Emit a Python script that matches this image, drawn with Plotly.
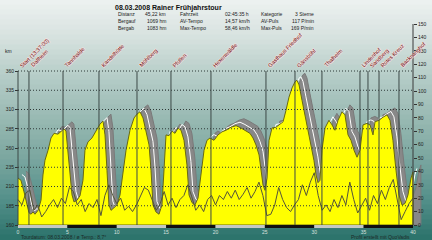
import plotly.graph_objects as go

# ---------------- data ----------------
km = [0.0, 0.3, 0.61, 0.91, 1.11, 1.32, 1.52, 1.72, 2.03, 2.33, 2.53, 2.73, 3.04, 3.34, 3.65, 4.05,
      4.35, 4.66, 4.86, 5.06, 5.27, 5.47, 5.67, 5.97, 6.28, 6.58, 6.78, 7.09, 7.49, 7.9, 8.3, 8.61,
      8.81, 9.01, 9.21, 9.42, 9.72, 10.03, 10.33, 10.63, 10.94, 11.34, 11.75, 12.05, 12.35, 12.66,
      12.96, 13.27, 13.47, 13.67, 13.97, 14.28, 14.58, 14.78, 14.99, 15.29, 15.6, 15.9, 16.2, 16.51,
      16.81, 17.11, 17.32, 17.62, 17.92, 18.23, 18.53, 18.84, 19.14, 19.44, 19.85, 20.25, 20.66,
      21.06, 21.57, 22.08, 22.58, 23.09, 23.49, 23.8, 24.1, 24.41, 24.61, 24.81, 25.01, 25.22, 25.42,
      25.72, 26.13, 26.53, 26.84, 27.14, 27.44, 27.75, 28.05, 28.25, 28.46, 28.76, 29.06, 29.37,
      29.67, 29.97, 30.18, 30.38, 30.58, 30.78, 31.09, 31.49, 31.8, 32.1, 32.41, 32.81, 33.11, 33.42,
      33.72, 34.03, 34.33, 34.63, 34.94, 35.34, 35.65, 35.95, 36.15, 36.56, 36.96, 37.37, 37.67,
      37.97, 38.28, 38.58, 38.89, 39.19, 39.49, 39.8, 40.0]
elev = [221, 218, 203, 186, 176, 174, 177, 174, 179, 192, 225, 244, 257, 273, 279, 278,
        282, 285, 282, 257, 225, 199, 190, 192, 198, 218, 257, 268, 273, 283, 291, 295,
        277, 231, 186, 179, 182, 186, 199, 231, 257, 283, 299, 304, 307, 299,
        281, 264, 231, 186, 177, 174, 186, 231, 277, 276, 282, 279, 286, 283,
        270, 238, 199, 189, 186, 195, 225, 257, 270, 273, 270, 277, 281,
        283, 287, 289, 286, 282, 279, 273, 264, 251, 231, 212, 205, 221, 270,
        286, 287, 291, 294, 309, 326, 338, 346, 348, 342, 322, 303, 283,
        264, 244, 225, 215, 218, 257, 286, 296, 290, 283, 296, 307, 303, 277,
        270, 257, 248, 257, 290, 292, 290, 277, 294, 296, 300, 303, 296,
        270, 231, 199, 186, 188, 199, 221, 229]

speed_km = [0.0, 0.4, 0.8, 1.2, 1.6, 2.0, 2.4, 2.8, 3.2, 3.6, 4.0, 4.4, 4.8, 5.2, 5.6, 6.0, 6.4,
            6.8, 7.2, 7.6, 8.0, 8.4, 8.8, 9.2, 9.6, 10.0, 10.4, 10.8, 11.2, 11.6, 12.0, 12.4, 12.8,
            13.2, 13.6, 14.0, 14.4, 14.8, 15.2, 15.6, 16.0, 16.4, 16.8, 17.2, 17.6, 18.0, 18.4,
            18.8, 19.2, 19.6, 20.0, 20.4, 20.8, 21.2, 21.6, 22.0, 22.4, 22.8, 23.2, 23.6, 24.0,
            24.4, 24.8, 25.2, 25.6, 26.0, 26.4, 26.8, 27.2, 27.6, 28.0, 28.4, 28.8, 29.2, 29.6,
            30.0, 30.4, 30.8, 31.2, 31.6, 32.0, 32.4, 32.8, 33.2, 33.6, 34.0, 34.4, 34.8, 35.2,
            35.6, 36.0, 36.4, 36.8, 37.2, 37.6, 38.0, 38.4, 38.8, 39.2, 39.6, 40.0]
speed = [19, 15, 24, 26, 11, 15, 6, 10, 15, 19, 13, 20, 16, 28, 25, 15, 19,
         10, 16, 13, 19, 7, 22, 30, 22, 16, 20, 11, 14, 10, 15, 22, 28,
         26, 19, 11, 16, 25, 15, 20, 13, 19, 22, 30, 21, 11, 15,
         10, 19, 22, 15, 22, 19, 25, 20, 26, 19, 23, 28, 20, 25,
         32, 22, 7, 8, 15, 28, 19, 13, 10, 15, 19, 30, 22, 32,
         39, 22, 11, 15, 10, 19, 13, 22, 15, 32, 19, 9, 15, 20,
         11, 22, 16, 26, 19, 28, 34, 19, 4, 10, 16, 20]

marker_km = [0.0, 1.11, 4.56, 8.2, 12.05, 15.49, 19.54, 25.11, 28.05, 30.78, 34.63, 35.44, 36.56, 38.58]
marker_names = ["Start (13:37:00)", "Dallheim", "Tannhalde", "Kandelhütte", "Mühlberg", "Pfullen",
                "Hexenwäldle", "Gasthaus Friedhof", "Gänsbühl", "Thalheim", "Lindenhof",
                "Sandberg", "Rotes Kreuz", "Backnanghof"]

elev_ticks = [160, 185, 210, 235, 260, 285, 310, 335, 360]
right_ticks = [0, 10, 20, 30, 40, 50, 60, 70, 80, 90, 100, 110, 120, 130, 140, 150]
x_ticks = [0, 5, 10, 15, 20, 25, 30, 35, 40]

title = "08.03.2008 Rainer Frühjahrstour"
table = [
    ["Distanz", "45,22 km", "Fahrzeit", "02:45:35 h", "Kategorie", "3 Sterne"],
    ["Bergauf", "1069 hm", "AV-Tempo", "14,57 km/h", "AV-Puls", "117 P/min"],
    ["Bergab", "1083 hm", "Max-Tempo", "58,46 km/h", "Max-Puls", "169 P/min"],
]

# ---------------- geometry (plot area = whole figure) ----------------
W, H = 432, 240
X0PX, X1PX = 18, 413          # pixel of km 0 / km 40
Y0PX, Y1PX = 225, 71          # pixel of 160 m / 360 m
KPX = (X1PX - X0PX) / 40.0
MPX = (Y0PX - Y1PX) / 200.0
XR = [0 - X0PX / KPX, 40 + (W - X1PX) / KPX]
YR = [160 - (H - Y0PX) / MPX, 360 + Y1PX / MPX]
SPX = (Y0PX - 24) / 150.0     # right axis: 0 at 225 px, 150 at 24 px
Y2R = [0 - (H - Y0PX) / SPX, Y0PX / SPX]


def pp(x, y):
    return x / W, 1 - y / H


FONT = "Liberation Sans, Arial, sans-serif"

fig = go.Figure()

# gradient background bands (as filled traces)
stops = [(0, (238, 242, 241)), (40, (213, 225, 222)), (80, (179, 203, 198)),
         (120, (152, 185, 178)), (160, (122, 166, 159)), (200, (84, 144, 138)), (240, (43, 114, 106))]


def col_at(yv):
    for (ya_, ca), (yb_, cb) in zip(stops[:-1], stops[1:]):
        if ya_ <= yv <= yb_:
            t = (yv - ya_) / (yb_ - ya_)
            return "rgb(%d,%d,%d)" % tuple(int(round(a + (b - a) * t)) for a, b in zip(ca, cb))
    return "rgb(%d,%d,%d)" % stops[-1][1]


def py2m(ypx):
    return YR[1] - ypx / H * (YR[1] - YR[0])


NB = 48
for i in range(NB):
    t_px = H * i / NB
    b_px = min(H + 1, H * (i + 1) / NB + 0.6)
    yt, yb = py2m(t_px - 0.5), py2m(b_px)
    c = col_at((t_px + b_px) / 2)
    fig.add_trace(go.Scatter(x=[XR[0] - 1, XR[1] + 1, XR[1] + 1, XR[0] - 1, XR[0] - 1],
                             y=[yb, yb, yt, yt, yb], mode="lines", line=dict(width=0, color=c),
                             fill="toself", fillcolor=c, hoverinfo="skip", showlegend=False))

# shadow ribbon (extrusion)
DX, DY = 0.8, 9
sx = [k + DX for k in km]
sy = [e + DY for e in elev]
fig.add_trace(go.Scatter(x=sx + [sx[-1], sx[0]], y=sy + [160, 160], mode="lines",
                         line=dict(color="#7a7a7a", width=1), fill="toself",
                         fillcolor="#888888", hoverinfo="skip", showlegend=False))
fig.add_trace(go.Scatter(x=[k + DX / 2 for k in km], y=[e + DY / 2 for e in elev], mode="lines",
                         line=dict(color="#ffffff", width=1), hoverinfo="skip", showlegend=False))
# profile
fig.add_trace(go.Scatter(x=km + [km[-1], km[0]], y=elev + [160, 160], mode="lines",
                         line=dict(color="#6a6a10", width=1), fill="toself",
                         fillcolor="#ffff00", showlegend=False))
# speed line
fig.add_trace(go.Scatter(x=speed_km, y=speed, mode="lines", yaxis="y2",
                         line=dict(color="#55553a", width=1), showlegend=False))

shapes = []
for t in elev_ticks[1:]:
    shapes.append(dict(type="line", xref="x", yref="y", x0=0, x1=40, y0=t, y1=t,
                       line=dict(color="#2f3a38", width=1, dash="1px,2px"), layer="above"))
for m in marker_km:
    shapes.append(dict(type="line", xref="x", yref="y", x0=m, x1=m, y0=160, y1=360,
                       line=dict(color="#3c4846", width=1), layer="above"))
for i, (a, b) in enumerate(zip(x_ticks[:-1], x_ticks[1:])):
    shapes.append(dict(type="rect", xref="x", yref="y", x0=a, x1=b, y0=160 - 3 / MPX, y1=160,
                       fillcolor="#c4c8c4" if i % 2 == 0 else "#101010", line=dict(width=0),
                       layer="above"))

annotations = []
halo = [(-0.8, 0), (0.8, 0), (0, 0.8), (0, -0.8)]
for m, name in zip(marker_km, marker_names):
    for hx, hy in halo:
        annotations.append(dict(x=m, y=360, xref="x", yref="y", text=name, showarrow=False,
                                textangle=-45, xanchor="left", yanchor="bottom",
                                xshift=-2 + hx, yshift=hy,
                                font=dict(family=FONT, size=5.5, color="rgba(255,225,225,0.9)")))
    annotations.append(dict(x=m, y=360, xref="x", yref="y", text=name, showarrow=False,
                            textangle=-45, xanchor="left", yanchor="bottom", xshift=-2, yshift=0,
                            font=dict(family=FONT, size=5.5, color="#6a1010")))

x, y = pp(113, 8)
annotations.append(dict(x=x, y=y, xref="paper", yref="paper", text="<b>%s</b>" % title,
                        showarrow=False, xanchor="left", yanchor="middle",
                        font=dict(family=FONT, size=7, color="#111111")))
cols = [(116, "left"), (168, "right"), (178, "left"), (223, "left"), (259, "left"), (316, "right")]
for r, row in enumerate(table):
    yy = 14 + r * 7
    for (cx, anc), txt in zip(cols, row):
        x, y = pp(cx, yy)
        annotations.append(dict(x=x, y=y, xref="paper", yref="paper", text=txt, showarrow=False,
                                xanchor=anc, yanchor="middle",
                                font=dict(family=FONT, size=5, color="#222222")))

x, y = pp(8, 51)
annotations.append(dict(x=x, y=y, xref="paper", yref="paper", text="km", showarrow=False,
                        xanchor="center", yanchor="middle",
                        font=dict(family=FONT, size=5, color="#222222")))
x, y = pp(19, 237)
annotations.append(dict(x=x, y=y, xref="paper", yref="paper",
                        text="Tourdatum: 08.03.2008 / ø Temp.: 8,7°", showarrow=False,
                        xanchor="left", yanchor="middle",
                        font=dict(family=FONT, size=5, color="#1c2a28")))
x, y = pp(412, 237)
annotations.append(dict(x=x, y=y, xref="paper", yref="paper",
                        text="Profil erstellt mit QuoVadis", showarrow=False,
                        xanchor="right", yanchor="middle",
                        font=dict(family=FONT, size=5, color="#1c2a28")))

fig.update_layout(
    width=W, height=H, margin=dict(l=0, r=0, t=0, b=0, pad=0),
    paper_bgcolor="#8fb5ad", plot_bgcolor="#8fb5ad",
    showlegend=False, shapes=shapes, annotations=annotations,
    xaxis=dict(range=XR, anchor="free", position=(H - Y0PX) / H, tickvals=x_ticks,
               ticktext=[str(t) for t in x_ticks], showgrid=False, zeroline=False, ticks="",
               showline=False, ticklabelstandoff=3,
               tickfont=dict(family=FONT, size=5, color="#d8e0de")),
    yaxis=dict(range=YR, anchor="free", position=X0PX / W, side="left", tickvals=elev_ticks,
               ticktext=[str(t) for t in elev_ticks], showgrid=False, zeroline=False,
               ticks="outside", ticklen=3, tickcolor="#333333",
               tickfont=dict(family=FONT, size=5, color="#222222")),
    yaxis2=dict(range=Y2R, overlaying="y", anchor="free", position=X1PX / W, side="right",
                tickvals=right_ticks, ticktext=[str(t) for t in right_ticks], showgrid=False,
                zeroline=False, showline=False,
                ticks="outside", ticklen=3, tickcolor="#333333",
                tickfont=dict(family=FONT, size=5, color="#222222")),
)
# right axis line from 0 to 150
fig.add_shape(type="line", xref="x", yref="y2", x0=40, x1=40, y0=0, y1=150,
              line=dict(color="#3a3a3a", width=1), layer="above")

fig.write_html("out.html")
